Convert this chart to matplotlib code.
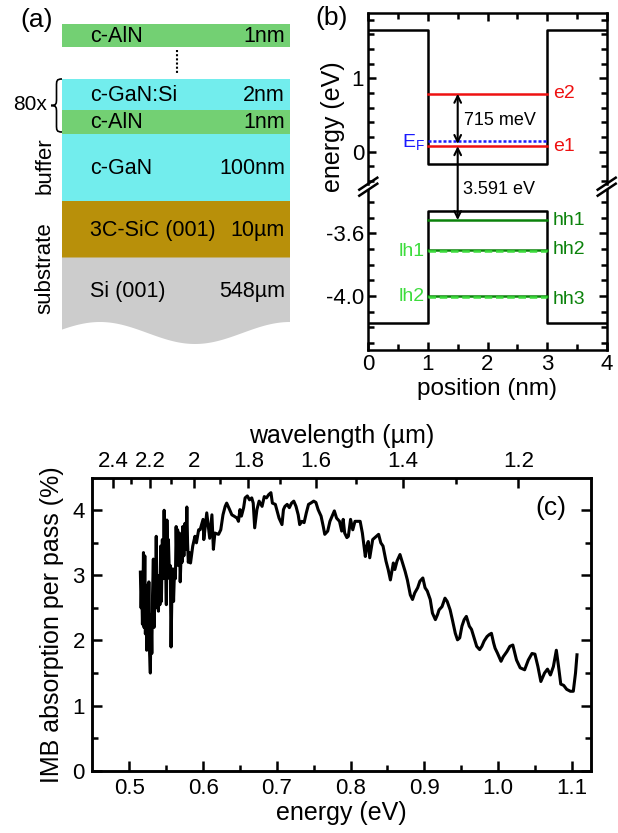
import numpy as np
import matplotlib
matplotlib.use('Agg')
import matplotlib.pyplot as plt
from matplotlib.patches import Rectangle, Polygon, PathPatch, ConnectionPatch
from matplotlib.path import Path
from matplotlib.lines import Line2D

plt.rcParams['font.family'] = ['Liberation Sans', 'DejaVu Sans']
plt.rcParams['axes.unicode_minus'] = False
plt.rcParams['axes.linewidth'] = 1.8

W, H = 618, 833

# ---------------- (a) layer stack ----------------
layer_names = ['c-AlN', 'c-GaN:Si', 'c-AlN', 'c-GaN', '3C-SiC (001)', 'Si (001)']
layer_thick = ['1nm', '2nm', '1nm', '100nm', '10µm', '548µm']
layer_colors = ['#73d073', '#72eded', '#73d073', '#72eded', '#b8900a', '#cccccc']

# ---------------- (b) band profile ----------------
well_pos = [0, 1, 1, 3, 3, 4]                      # nm
cb_edge = [1.66, 1.66, -0.17, -0.17, 1.66, 1.66]   # eV
vb_edge = [-4.17, -4.17, -3.455, -3.455, -4.17, -4.17]
e_levels = [0.075, 0.79]
e_names = ['e1', 'e2']
fermi = 0.145
hh_levels = [-3.516, -3.706, -4.0]
hh_names = ['hh1', 'hh2', 'hh3']
lh_levels = [-3.716, -4.005]
lh_names = ['lh1', 'lh2']

# ---------------- (c) absorption spectrum ----------------
energy_eV = [
    0.5150, 0.5160, 0.5168, 0.5178, 0.5185, 0.5192, 0.5200, 0.5210, 0.5218, 0.5226,
    0.5236, 0.5245, 0.5255, 0.5265, 0.5275, 0.5285, 0.5295, 0.5305, 0.5315, 0.5326,
    0.5335, 0.5345, 0.5355, 0.5365, 0.5375, 0.5385, 0.5395, 0.5405, 0.5415, 0.5425,
    0.5435, 0.5448, 0.5460, 0.5472, 0.5482, 0.5492, 0.5502, 0.5510, 0.5520, 0.5530,
    0.5545, 0.5555, 0.5566, 0.5578, 0.5590, 0.5600, 0.5612, 0.5625, 0.5635, 0.5645,
    0.5655, 0.5665, 0.5680, 0.5690, 0.5705, 0.5715, 0.5725, 0.5740, 0.5755, 0.5768,
    0.5780, 0.5790, 0.5800, 0.5815, 0.5830, 0.5860, 0.5890, 0.5910, 0.5940,
    0.596, 0.600, 0.601, 0.605, 0.609, 0.612, 0.614, 0.616, 0.621, 0.624,
    0.627, 0.630, 0.632, 0.636, 0.639, 0.642, 0.646, 0.648, 0.650, 0.652,
    0.655, 0.657, 0.660, 0.663, 0.666, 0.668, 0.670, 0.673, 0.676, 0.680,
    0.683, 0.686, 0.689, 0.692, 0.694, 0.698, 0.701, 0.703, 0.707, 0.709,
    0.711, 0.714, 0.717, 0.720, 0.723, 0.726, 0.729, 0.731, 0.734, 0.737,
    0.740, 0.743, 0.746, 0.750, 0.753, 0.756, 0.760, 0.763, 0.765, 0.769,
    0.772, 0.778, 0.781, 0.785, 0.788, 0.790, 0.792, 0.795, 0.797, 0.800,
    0.803, 0.806, 0.813, 0.816, 0.820, 0.822, 0.824, 0.826, 0.830, 0.833,
    0.838, 0.841, 0.844, 0.848, 0.851, 0.854, 0.858, 0.860, 0.863, 0.867,
    0.871, 0.874, 0.877, 0.881, 0.884, 0.887, 0.891, 0.894, 0.898, 0.901,
    0.904, 0.908, 0.911, 0.915, 0.918, 0.920, 0.924, 0.928, 0.931, 0.935,
    0.938, 0.942, 0.945, 0.948, 0.951, 0.954, 0.957, 0.961, 0.964, 0.967,
    0.971, 0.975, 0.978, 0.981, 0.985, 0.988, 0.991, 0.994, 0.996, 0.999,
    1.004, 1.007, 1.012, 1.016, 1.020, 1.025, 1.030, 1.036, 1.041, 1.046,
    1.050, 1.054, 1.058, 1.063, 1.067, 1.071, 1.075, 1.079, 1.082, 1.085,
    1.089, 1.093, 1.098, 1.102, 1.105, 1.107,
]
absorption_pct = [
    3.05, 2.50, 2.85, 2.25, 2.70, 3.35, 2.20, 3.30, 2.10, 2.85,
    1.85, 2.80, 2.05, 2.90, 1.80, 1.50, 2.40, 1.80, 2.70, 3.25,
    2.20, 3.10, 2.55, 3.60, 2.50, 2.85, 2.45, 3.00, 2.55, 3.45,
    2.60, 3.55, 2.95, 4.00, 3.10, 3.20, 2.55, 3.85, 3.10, 3.55,
    2.95, 3.15, 1.90, 2.75, 3.10, 2.60, 3.05, 2.95, 3.75, 3.20,
    3.70, 3.15, 3.65, 2.90, 3.40, 3.20, 3.75, 3.30, 3.80, 3.40,
    4.05, 3.50, 3.20, 3.35, 3.19, 3.45, 3.60, 3.50, 3.70,
    3.70, 3.86, 3.55, 3.96, 3.57, 3.93, 3.40, 3.65, 3.63, 3.70,
    3.93, 4.06, 4.11, 4.01, 3.93, 3.91, 3.88, 3.83, 4.01, 3.91,
    4.04, 4.19, 4.22, 4.16, 4.19, 4.11, 3.73, 4.01, 4.14, 4.06,
    4.21, 4.19, 4.24, 4.27, 4.11, 4.09, 3.96, 3.88, 3.78, 4.01,
    4.06, 4.09, 4.04, 4.11, 4.14, 4.06, 3.93, 3.78, 3.83, 3.81,
    3.96, 4.09, 4.11, 4.14, 4.12, 4.01, 3.91, 3.75, 3.63, 3.68,
    3.83, 3.99, 3.88, 3.83, 3.68, 3.86, 3.65, 3.58, 3.60, 3.86,
    3.70, 3.83, 3.83, 3.65, 3.29, 3.45, 3.52, 3.27, 3.55, 3.58,
    3.63, 3.50, 3.45, 3.22, 3.09, 2.93, 3.19, 3.09, 3.22, 3.32,
    3.17, 3.06, 2.93, 2.70, 2.63, 2.73, 2.81, 2.91, 2.96, 2.81,
    2.76, 2.63, 2.42, 2.32, 2.40, 2.47, 2.52, 2.65, 2.60, 2.47,
    2.32, 2.11, 2.01, 2.04, 2.22, 2.32, 2.37, 2.22, 2.17, 2.06,
    1.91, 1.86, 1.91, 1.99, 2.06, 2.09, 2.11, 1.96, 1.88, 1.81,
    1.68, 1.75, 1.83, 1.91, 1.93, 1.70, 1.58, 1.55, 1.70, 1.80,
    1.79, 1.60, 1.37, 1.50, 1.56, 1.47, 1.60, 1.85, 1.60, 1.33,
    1.31, 1.25, 1.22, 1.22, 1.50, 1.78,
]
wl_major = [2.4, 2.2, 2.0, 1.8, 1.6, 1.4, 1.2]
wl_major_labels = ['2.4', '2.2', '2', '1.8', '1.6', '1.4', '1.2']
wl_minor = [2.3, 2.1, 1.9, 1.7, 1.5, 1.3]
# top axis calibration as printed in the original: 1/lambda = a + b*E
WL_A, WL_B = 0.0539, 0.7586


def wl_to_energy(wl):
    return (1.0 / np.asarray(wl, dtype=float) - WL_A) / WL_B


def px_box(left, top, right, bottom):
    """figure-fraction rect from pixel box (origin top-left)"""
    return [left / W, 1 - bottom / H, (right - left) / W, (bottom - top) / H]


fig = plt.figure(figsize=(W / 100, H / 100), dpi=100)

# ================= panel (a) =================
ax_a = fig.add_axes([0, 1 - 345 / H, 300 / W, 345 / H])
ax_a.set_xlim(0, 300)
ax_a.set_ylim(345, 0)
ax_a.axis('off')

xa0, xa1 = 62, 290
# drawing extents (schematic, px)
tops = [23.5, 78.5, 110, 133.5, 201, 257.5]
bots = [46.5, 110, 133.5, 201, 257.5, None]
fs_a = 15.5
for i, (name, thick, col) in enumerate(zip(layer_names, layer_thick, layer_colors)):
    t = tops[i]
    if bots[i] is not None:
        b = bots[i]
        ax_a.add_patch(Rectangle((xa0, t), xa1 - xa0, b - t, color=col, lw=0))
        yc = (t + b) / 2 + 1
    else:
        xs = np.linspace(xa0, xa1, 100)
        ys = 333 - 11 * np.cos(2 * np.pi * (xs - 100) / 190)
        verts = [(xa0, t)] + list(zip(xs, ys)) + [(xa1, t)]
        ax_a.add_patch(Polygon(verts, closed=True, color=col, lw=0))
        yc = 292
    ax_a.text(90, yc, name, fontsize=fs_a, ha='left', va='center')
    ax_a.text(285, yc, thick, fontsize=fs_a, ha='right', va='center')

ax_a.plot([176.5, 176.5], [50, 75], color='k', lw=1.5, ls=(0, (1, 1)))

# curly brace for the 80x period
bx, by0, by1, bw = 62, 79, 132, 11
ym = (by0 + by1) / 2
q = 7
verts = [(bx, by0),
         (bx - bw * 0.5, by0), (bx - bw * 0.5, by0 + 2), (bx - bw * 0.5, by0 + q),
         (bx - bw * 0.5, ym - q),
         (bx - bw * 0.5, ym - 2), (bx - bw * 0.5, ym), (bx - bw, ym),
         (bx - bw * 0.5, ym), (bx - bw * 0.5, ym + 2), (bx - bw * 0.5, ym + q),
         (bx - bw * 0.5, by1 - q),
         (bx - bw * 0.5, by1 - 2), (bx - bw * 0.5, by1), (bx, by1)]
codes = [Path.MOVETO, Path.CURVE4, Path.CURVE4, Path.CURVE4, Path.LINETO,
         Path.CURVE4, Path.CURVE4, Path.CURVE4, Path.CURVE4, Path.CURVE4, Path.CURVE4,
         Path.LINETO, Path.CURVE4, Path.CURVE4, Path.CURVE4]
ax_a.add_patch(PathPatch(Path(verts, codes), fill=False, lw=1.2, ec='k'))

ax_a.text(30, 105, '80x', fontsize=15, ha='center', va='center')
ax_a.text(45, 166, 'buffer', fontsize=16, rotation=90, ha='center', va='center')
ax_a.text(45, 268, 'substrate', fontsize=16, rotation=90, ha='center', va='center')
ax_a.text(37, 20, '(a)', fontsize=19, ha='center', va='center')

# ================= panel (b) =================
red, blue = '#ee1111', '#1a1aff'
dkgreen, ltgreen = '#0b820b', '#3ddc3d'
fs_lvl = 14

axu = fig.add_axes(px_box(368.3, 13.3, 606.7, 183.7))
axl = fig.add_axes(px_box(368.3, 189.7, 606.7, 350))
for ax in (axu, axl):
    ax.set_xlim(0, 4)
    ax.set_xticks([0, 1, 2, 3, 4])
    ax.set_xticks([0.5, 1.5, 2.5, 3.5], minor=True)
    ax.tick_params(which='both', direction='in', left=True, right=True, width=1.8,
                   labelsize=16, pad=3)
    ax.tick_params(which='major', length=6)
    ax.tick_params(which='minor', length=4.5)

axu.set_ylim(-0.437, 1.888)
axu.set_yticks([0, 1])
axu.set_yticks(np.arange(-0.4, 1.81, 0.2), minor=True)
axu.spines['bottom'].set_visible(False)
axu.tick_params(which='both', bottom=False, top=True, labelbottom=False)

axl.set_ylim(-4.345, -3.322)
axl.set_yticks([-4.0, -3.6])
axl.set_yticklabels(['-4.0', '-3.6'])
axl.set_yticks([-4.3, -4.2, -4.1, -3.9, -3.8, -3.7, -3.5, -3.4], minor=True)
axl.spines['top'].set_visible(False)
axl.tick_params(which='both', top=False, bottom=True)

axu.plot(well_pos, cb_edge, color='k', lw=1.8)
axl.plot(well_pos, vb_edge, color='k', lw=1.8)

for lvl, nm in zip(e_levels, e_names):
    axu.plot([1, 3], [lvl, lvl], color=red, lw=1.8)
    axu.text(3.1, lvl, nm, color=red, fontsize=fs_lvl, ha='left', va='center')
axu.plot([1, 3], [fermi, fermi], color=blue, lw=1.8, ls=(0, (1.2, 0.8)))
axu.text(0.95, fermi - 0.03, r'E$_\mathregular{F}$', color=blue, fontsize=fs_lvl,
         ha='right', va='center')

for lvl in hh_levels:
    axl.plot([1, 3], [lvl, lvl], color=dkgreen, lw=1.8)
for lvl, nm in zip(lh_levels, lh_names):
    axl.plot([1, 3], [lvl, lvl], color=ltgreen, lw=1.8, ls=(0, (3, 1.5)))
    axl.text(0.95, lvl, nm, color=ltgreen, fontsize=fs_lvl, ha='right', va='center')
for lvl, nm in zip([hh_levels[0], hh_levels[1] + 0.005, hh_levels[2] - 0.02], hh_names):
    axl.text(3.1, lvl, nm, color=dkgreen, fontsize=fs_lvl, ha='left', va='center')

# arrows
xa = 1.5
axu.annotate('', xy=(xa, e_levels[1]), xytext=(xa, e_levels[0] + 0.03),
             arrowprops=dict(arrowstyle='<->', lw=1.5, color='k', mutation_scale=12,
                             shrinkA=0, shrinkB=0))
axu.text(1.6, 0.42, '715 meV', fontsize=13, ha='left', va='center')
con = ConnectionPatch(xyA=(xa, e_levels[0]), coordsA=axu.transData,
                      xyB=(xa, hh_levels[0]), coordsB=axl.transData,
                      arrowstyle='<->', lw=1.5, color='k', mutation_scale=12,
                      shrinkA=0, shrinkB=0)
fig.add_artist(con)
fig.text(463 / W, 1 - 190 / H, '3.591 eV', fontsize=13, ha='left', va='center')

# axis break marks
for xs in (368.3, 606.7):
    for ys in (183.7, 189.7):
        fig.add_artist(Line2D([(xs - 9) / W, (xs + 9) / W],
                              [1 - (ys + 6) / H, 1 - (ys - 6) / H],
                              color='k', lw=1.8))

fig.text(333 / W, 1 - 127 / H, 'energy (eV)', fontsize=18, rotation=90,
         ha='center', va='center')
fig.text(487 / W, 1 - 389 / H, 'position (nm)', fontsize=17.5, ha='center', va='center')
fig.text(332 / W, 1 - 18 / H, '(b)', fontsize=19, ha='center', va='center')

# ================= panel (c) =================
axc = fig.add_axes(px_box(91.7, 477.7, 591, 770.7))
axc.plot(energy_eV, absorption_pct, color='k', lw=2.2)
axc.set_xlim(0.449, 1.126)
axc.set_ylim(0, 4.5)
axc.set_xticks(np.arange(0.5, 1.11, 0.1))
axc.set_xticklabels(['0.5', '0.6', '0.7', '0.8', '0.9', '1.0', '1.1'])
axc.set_xticks(np.arange(0.55, 1.11, 0.1), minor=True)
axc.set_yticks([0, 1, 2, 3, 4])
axc.set_yticks([0.5, 1.5, 2.5, 3.5], minor=True)
axc.tick_params(which='both', direction='in', top=False, right=True, width=1.8,
                labelsize=16, pad=5)
axc.tick_params(which='major', length=7)
axc.tick_params(which='minor', length=4.5)
axc.set_xlabel('energy (eV)', fontsize=18, labelpad=2)
axc.set_ylabel('IMB absorption per pass (%)', fontsize=18, labelpad=6)
axc.text(0.92, 0.897, '(c)', transform=axc.transAxes, fontsize=19,
         ha='center', va='center')

axt = axc.twiny()
axt.set_xlim(axc.get_xlim())
axt.set_xticks(wl_to_energy(wl_major))
axt.set_xticklabels(wl_major_labels)
axt.set_xticks(wl_to_energy(wl_minor), minor=True)
axt.tick_params(which='both', direction='in', width=1.8, labelsize=16, pad=4)
axt.tick_params(which='major', length=7)
axt.tick_params(which='minor', length=4.5)
axt.set_xlabel('wavelength (µm)', fontsize=18, labelpad=6)

fig.savefig('out.png', dpi=100)
